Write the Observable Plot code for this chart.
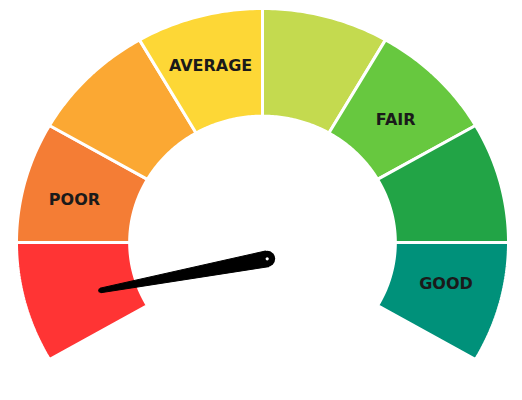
<!DOCTYPE html>
<html><head><meta charset="utf-8">
<script src="https://cdn.jsdelivr.net/npm/d3@7"></script>
<script src="https://cdn.jsdelivr.net/npm/@observablehq/plot@0.6"></script>
<style>body{margin:0;background:#fff}</style></head>
<body><div id="chart"></div>
<script>
// Gauge data
const segmentColors = ["#FF3434","#F47D35","#FBA833","#FDD736","#C4DA4F","#67C83F","#22A446","#00917A"];
const labelTexts = ["POOR", "AVERAGE", "FAIR", "GOOD"];
const labelPercents = [18.1, 43.5, 69.1, 93.0]; // position along the gauge sweep
const needleValues = [5.3]; // percent of the gauge sweep

// Geometry
const startAngle = 210, sweep = 240;
const rOuter = 1, rInner = 0.54;
const labelRadii = [0.786, 0.785, 0.755, 0.766];
const kx = 246, ky = 234; // px per unit (from scale ranges below)
const toRad = d => d * Math.PI / 180;
const n = segmentColors.length;
const step = sweep / n;

const segMarks = segmentColors.map((c, i) => {
  const a0 = startAngle - i * step, a1 = a0 - step;
  const pts = [];
  const N = 40;
  for (let k = 0; k <= N; k++) { const a = toRad(a0 - (a0 - a1) * k / N); pts.push({x: rOuter * Math.cos(a), y: rOuter * Math.sin(a)}); }
  for (let k = N; k >= 0; k--) { const a = toRad(a0 - (a0 - a1) * k / N); pts.push({x: rInner * Math.cos(a), y: rInner * Math.sin(a)}); }
  pts.push(pts[0]);
  return Plot.line(pts, {x: "x", y: "y", fill: c, stroke: "white", strokeWidth: 3, strokeLinejoin: "miter"});
});

const labels = labelTexts.map((t, i) => {
  const a = toRad(startAngle - labelPercents[i] / 100 * sweep);
  return {text: t, x: labelRadii[i] * Math.cos(a), y: labelRadii[i] * Math.sin(a)};
});

// Needle
const pivot = {x: 0.0191, y: -0.0697};
const needleAngle = toRad(startAngle - needleValues[0] / 100 * sweep);
const rTip = 0.69;
const tip = {x: rTip * Math.cos(needleAngle), y: rTip * Math.sin(needleAngle)};
const dxp = (tip.x - pivot.x) * kx, dyp = (tip.y - pivot.y) * ky;
const len = Math.hypot(dxp, dyp);
const px = -dyp / len, py = dxp / len; // perpendicular in px (y up)
const wBase = 8, wTip = 2.3;
const needlePoly = [
  {x: pivot.x + px * wBase / kx, y: pivot.y + py * wBase / ky},
  {x: tip.x + px * wTip / kx, y: tip.y + py * wTip / ky},
  {x: tip.x - px * wTip / kx, y: tip.y - py * wTip / ky},
  {x: pivot.x - px * wBase / kx, y: pivot.y - py * wBase / ky}
];
needlePoly.push(needlePoly[0]);

const chart = Plot.plot({
  width: 522, height: 400,
  margin: 0,
  x: {domain: [-1, 1], range: [16, 508], axis: null},
  y: {domain: [-1, 1], range: [476, 8], axis: null},
  style: {background: "white"},
  marks: [
    ...segMarks,
    Plot.text(labels, {x: "x", y: "y", text: "text", fontSize: 16, fontWeight: "bold", fontFamily: "DejaVu Sans", fill: "#1a1a1a"}),
    Plot.line(needlePoly, {x: "x", y: "y", fill: "black", stroke: "black", strokeWidth: 1}),
    Plot.dot([pivot], {x: "x", y: "y", r: 8, fill: "black"}),
    Plot.dot([tip], {x: "x", y: "y", r: wTip, fill: "black"}),
    Plot.dot([pivot], {x: "x", y: "y", r: 1.6, fill: "white"})
  ]
});
document.getElementById("chart").append(chart);
</script>
</body></html>
